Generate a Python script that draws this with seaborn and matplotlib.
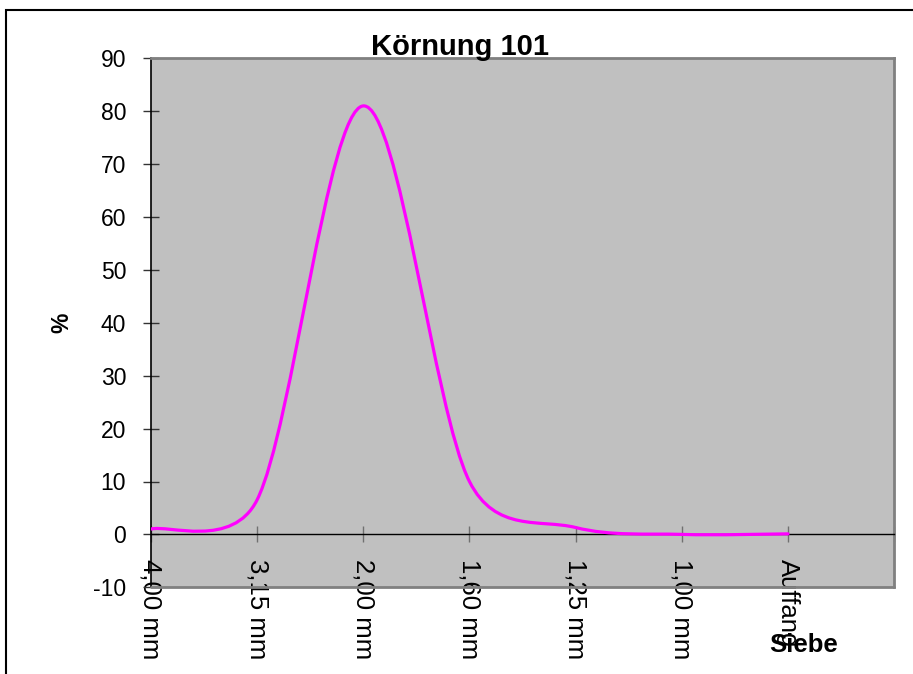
import numpy as np
import pandas as pd
import matplotlib
matplotlib.use("Agg")
import matplotlib.pyplot as plt
import seaborn as sns
from matplotlib.path import Path
from matplotlib.patches import PathPatch, Rectangle

# ---- data ----
categories = ["4,00 mm", "3,15 mm", "2,00 mm", "1,60 mm", "1,25 mm", "1,00 mm", "Auffang", ""]
values = [1.0, 6.5, 81.0, 10.0, 1.3, 0.0, 0.1]
y_ticks = [-10, 0, 10, 20, 30, 40, 50, 60, 70, 80, 90]
title = "Körnung 101"
x_title = "Siebe"
y_title = "%"

sns.set_style("white")
plt.rcParams["font.family"] = ["Liberation Sans", "DejaVu Sans"]
plt.rcParams["text.color"] = "black"
plt.rcParams["axes.labelcolor"] = "black"
plt.rcParams["xtick.color"] = "black"
plt.rcParams["ytick.color"] = "black"

W, H = 913, 674
fig = plt.figure(figsize=(W / 100, H / 100), dpi=100)
fig.patch.set_facecolor("white")
left, right, top, bottom = 150.8, 894.3, 58.3, 587.3
ax = fig.add_axes([left / W, 1 - bottom / H, (right - left) / W, (bottom - top) / H])
ax.set_facecolor("#C0C0C0")

df = pd.DataFrame({"pos": np.arange(len(values)), "value": values})
sns.lineplot(data=df, x="pos", y="value", ax=ax, color="#FF00FF", linewidth=2.3)
ax.set_xlim(0, len(categories) - 1)
ax.set_ylim(y_ticks[0], y_ticks[-1])

# ---- Excel-like smoothing of the seaborn line (Bezier through the data points) ----
line = ax.lines[0]
pts = ax.transData.transform(line.get_xydata())
n = len(pts)


def controls(i):
    prev = pts[max(i - 1, 0)]
    nxt = pts[min(i + 1, n - 1)]
    v = (nxt - prev) / 6.0
    lv = np.hypot(*v)
    before, after = v, v
    if i > 0:
        d = np.hypot(*(pts[i] - pts[i - 1])) / 2
        if lv > d:
            before = v * d / lv
    if i < n - 1:
        d = np.hypot(*(pts[i + 1] - pts[i])) / 2
        if lv > d:
            after = v * d / lv
    return pts[i] - before, pts[i] + after


verts = [pts[0]]
codes = [Path.MOVETO]
for i in range(n - 1):
    _, a = controls(i)
    b, _ = controls(i + 1)
    verts += [a, b, pts[i + 1]]
    codes += [Path.CURVE4] * 3
verts_data = ax.transData.inverted().transform(np.array(verts))
ax.add_patch(PathPatch(Path(verts_data, codes), facecolor="none",
                       edgecolor=line.get_color(), lw=line.get_linewidth(),
                       capstyle="round", joinstyle="round", zorder=3))
line.set_visible(False)

# ---- axes styling ----
ax.spines["bottom"].set_position(("data", 0))
ax.spines["bottom"].set_color("black")
ax.spines["bottom"].set_linewidth(1.0)
ax.spines["left"].set_color("black")
ax.spines["left"].set_linewidth(1.2)
for s in ["top", "right"]:
    ax.spines[s].set_color("#808080")
    ax.spines[s].set_linewidth(2.0)
ax.axhline(y_ticks[0], color="#808080", lw=2.0, clip_on=False, zorder=5)

ax.set_xticks(range(len(categories)))
ax.set_xticklabels(categories, rotation=-90, fontsize=18.5, color="black")
ax.set_yticks(y_ticks)
ax.set_yticklabels([str(t) for t in y_ticks], fontsize=16.5, color="black")
ax.tick_params(axis="x", bottom=True, direction="inout", length=11.5, width=1.0,
               color="#707070", pad=12, labelcolor="black")
ax.tick_params(axis="y", left=True, direction="inout", length=11.5, width=1.0,
               color="#333333", pad=12, labelcolor="black")

ax.set_xlabel(x_title, fontsize=18.5, fontweight="bold", color="black")
ax.xaxis.set_label_coords((804 - left) / (right - left), (bottom - 652) / (bottom - top))
ax.xaxis.label.set_va("baseline")
ax.set_ylabel(y_title, fontsize=16.5, fontweight="bold", color="black")
ax.yaxis.set_label_coords((62 - left) / (right - left), 0.5)
ax.yaxis.label.set_va("center")

fig.text(460 / W, 1 - 55 / H, title, ha="center", va="baseline",
         fontsize=21, fontweight="bold", color="black")

fig.add_artist(Rectangle((5.5 / W, -0.05), 1.2, 1 - 9.5 / H + 0.05,
                         transform=fig.transFigure, fill=False,
                         edgecolor="black", lw=1.5))

fig.savefig("out.png", dpi=100)
